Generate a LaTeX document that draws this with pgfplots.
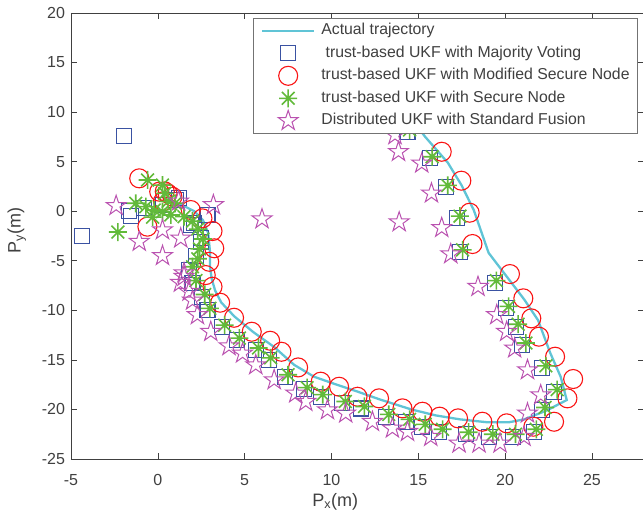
\documentclass[border=0pt]{standalone}
\usepackage{fontspec}
\setmainfont{Liberation Sans}
\usepackage{pgfplots}
\pgfplotsset{compat=1.18}

\definecolor{traj}{RGB}{96,196,214}
\definecolor{mvblue}{RGB}{58,82,162}
\definecolor{msred}{RGB}{250,20,20}
\definecolor{sngreen}{RGB}{98,186,58}
\definecolor{sfmag}{RGB}{186,82,176}
\definecolor{axgray}{RGB}{64,64,64}

% matlab-like '*' (8 spokes)
\pgfdeclareplotmark{ast8}{%
  \pgfpathmoveto{\pgfqpoint{-\pgfplotmarksize}{0pt}}\pgfpathlineto{\pgfqpoint{\pgfplotmarksize}{0pt}}%
  \pgfpathmoveto{\pgfqpoint{0pt}{-\pgfplotmarksize}}\pgfpathlineto{\pgfqpoint{0pt}{\pgfplotmarksize}}%
  \pgfpathmoveto{\pgfqpoint{-0.707\pgfplotmarksize}{-0.707\pgfplotmarksize}}\pgfpathlineto{\pgfqpoint{0.707\pgfplotmarksize}{0.707\pgfplotmarksize}}%
  \pgfpathmoveto{\pgfqpoint{-0.707\pgfplotmarksize}{0.707\pgfplotmarksize}}\pgfpathlineto{\pgfqpoint{0.707\pgfplotmarksize}{-0.707\pgfplotmarksize}}%
  \pgfusepathqstroke}
% outlined pentagram
\pgfdeclareplotmark{pentagram}{%
  \pgfpathmoveto{\pgfpointpolar{90}{\pgfplotmarksize}}%
  \pgfpathlineto{\pgfpointpolar{126}{0.382\pgfplotmarksize}}%
  \pgfpathlineto{\pgfpointpolar{162}{\pgfplotmarksize}}%
  \pgfpathlineto{\pgfpointpolar{198}{0.382\pgfplotmarksize}}%
  \pgfpathlineto{\pgfpointpolar{234}{\pgfplotmarksize}}%
  \pgfpathlineto{\pgfpointpolar{270}{0.382\pgfplotmarksize}}%
  \pgfpathlineto{\pgfpointpolar{306}{\pgfplotmarksize}}%
  \pgfpathlineto{\pgfpointpolar{342}{0.382\pgfplotmarksize}}%
  \pgfpathlineto{\pgfpointpolar{18}{\pgfplotmarksize}}%
  \pgfpathlineto{\pgfpointpolar{54}{0.382\pgfplotmarksize}}%
  \pgfpathclose\pgfusepathqstroke}

\begin{document}
\begin{tikzpicture}
\begin{axis}[
    name=ax,
    scale only axis, width=573bp, height=446bp,
    xmin=-5, xmax=28, ymin=-25, ymax=20,
    xtick={-5,0,...,25}, ytick={-25,-20,...,20},
    tick align=inside, major tick length=6bp,
    axis line style={axgray, line width=0.6bp},
    every tick/.style={axgray, line width=0.6bp},
    /pgf/number format/assume math mode=true,
    ticklabel style={font=\fontsize{16bp}{18bp}\selectfont, text=axgray},
    xticklabel style={yshift=-12bp},
    yticklabel style={xshift=-2.5bp},
    xlabel={P\textsubscript{x}(m)},
    ylabel={P\textsubscript{y}(m)},
    label style={font=\fontsize{18bp}{20bp}\selectfont, text=axgray},
    xlabel style={at={(axis description cs:0.461,-0.106)}, anchor=base},
    ylabel style={at={(axis description cs:-0.0878,0.513)}, anchor=base, rotate=0},
    legend cell align=left,
    legend style={
        at={(rel axis cs:0.9895,0.989)}, anchor=north east,
        draw=black!55, line width=0.8bp, fill=white,
        font=\fontsize{15.8bp}{18bp}\selectfont, text=axgray,
        inner xsep=8bp, inner ysep=1.5bp,
        row sep=0.5bp, column sep=6bp,
        nodes={inner sep=0pt, text height=11.5bp, text depth=3.5bp},
    },
    legend image code/.code={%
        \path[draw=none, fill=none] (0bp,-11bp) rectangle (52bp,11bp);
        \draw[mark repeat=2, mark phase=2, #1]
        plot coordinates {(0bp,0bp) (26bp,0bp) (52bp,0bp)};},
]
% actual trajectory
\addplot[traj, line width=2.3bp] coordinates {
(0.4,1.2)(1.3,0.7)(2.1,0.0)(2.6,-0.9)(2.9,-2.2)(3.0,-4.0)(3.0,-5.5)(3.1,-6.8)
(3.3,-8.0)(3.65,-9.2)(4.4,-10.6)(5.5,-12.2)(6.7,-13.7)(7.85,-15.5)(9.0,-16.7)
(10.3,-17.5)(11.5,-18.2)(12.8,-19.0)(14.6,-20.0)(16.0,-20.6)(17.4,-21.0)
(19.0,-21.3)(20.2,-21.3)(21.1,-21.0)(22.4,-20.1)(23.55,-19.05)(23.2,-16.7)
(22.6,-14.3)(21.9,-11.0)(21.1,-8.9)(19.05,-4.2)(18.2,0.1)(17.5,2.6)(16.7,4.9)
(15.4,7.5)(14.4,9.8)};
\addlegendentry{Actual trajectory}

% majority voting
\addplot[only marks, mvblue, mark=square, mark size=7.5bp, line width=1.1bp] coordinates {
(-1.94,7.59)(-4.39,-2.5)
(-1.65,0.0)(-1.55,-0.5)(-0.79,0.29)(0.3,0.6)(1.04,1.13)(1.23,1.3)(2.09,-1.22)
(2.86,-0.38)(2.48,-2.73)(1.9,-1.39)(2.48,-3.07)(2.2,-4.5)
(1.80,-5.93)(2.0,-7.28)(2.57,-8.63)(2.86,-9.97)(3.72,-11.65)(4.58,-13.0)
(5.64,-14.0)(6.41,-15.0)(7.31,-16.7)(8.42,-17.97)(9.38,-18.72)(10.63,-19.39)
(11.7,-19.9)(13.13,-20.73)(14.28,-21.24)(15.24,-21.74)(16.20,-22.25)
(17.74,-22.49)(19.08,-22.75)(20.48,-22.75)(21.66,-22.25)(22.15,-20.06)
(22.82,-18.21)(22.15,-15.85)(20.99,-13.5)(20.61,-11.65)(20.03,-9.80)
(19.4,-7.2)(17.40,-4.09)(17.25,-0.72)(16.58,2.47)(15.68,5.34)(14.38,8.02)};
\addlegendentry{\hspace{4.3bp}trust-based UKF with Majority Voting}

% modified secure node
\addplot[only marks, msred, mark=o, mark size=9.5bp, line width=1.1bp] coordinates {
(-1.07,3.32)(0.08,1.97)(0.4,2.0)(0.56,1.8)(0.84,1.46)(0.3,1.0)(1.9,0.12)
(2.57,-0.72)(-0.6,-1.56)(3.15,-2.0)(3.25,-3.74)(2.96,-5.1)
(2.76,-6.44)(3.15,-7.62)(3.59,-9.23)(4.39,-10.75)(5.41,-12.16)(6.47,-13.07)
(7.12,-14.18)(8.08,-15.76)(9.38,-17.20)(10.44,-17.71)(11.5,-18.72)
(12.74,-18.88)(14.09,-19.89)(15.24,-20.23)(16.23,-20.73)(17.29,-20.90)
(18.69,-21.24)(20.09,-21.40)(21.63,-21.74)(22.82,-21.24)(23.59,-18.88)
(23.92,-16.93)(22.88,-14.68)(21.95,-12.66)(21.51,-10.81)(21.05,-8.79)
(20.28,-6.34)(18.12,-3.31)(17.96,-0.15)(17.48,3.08)(16.35,6.0)};
\addlegendentry{trust-based UKF with Modified Secure Node}

% secure node
\addplot[only marks, sngreen, mark=ast8, mark size=9bp, line width=1.6bp] coordinates {
(-2.30,-2.1)
(-0.59,3.15)(0.27,2.64)(0.4,1.8)(-1.27,0.8)(-0.69,0.46)(-0.21,0.12)(0.27,-0.05)
(0.75,-0.38)(1.51,-0.55)(0.6,1.0)(1.0,0.8)(-0.3,-0.6)(2.0,-1.0)(2.3,-1.8)
(2.6,-2.8)(2.4,-3.8)(2.3,-4.8)
(2.0,-5.6)(2.2,-7.0)(2.7,-8.4)(3.0,-9.8)(3.85,-11.5)(4.7,-12.8)(5.8,-13.8)
(6.5,-14.8)(7.5,-16.5)(8.6,-17.8)(9.5,-18.5)(10.8,-19.2)(11.9,-19.7)
(13.3,-20.5)(14.5,-21.0)(15.4,-21.5)(16.4,-22.0)(17.9,-22.3)(19.3,-22.5)
(20.6,-22.5)(21.8,-22.0)(22.3,-19.8)(23.0,-18.0)(22.35,-15.6)(21.2,-13.3)
(20.75,-11.4)(20.2,-9.6)(19.5,-7.0)(17.55,-3.9)(17.4,-0.5)(16.7,2.6)
(15.8,5.5)(14.5,8.2)};
\addlegendentry{trust-based UKF with Secure Node}

% standard fusion
\addplot[only marks, sfmag, mark=pentagram, mark size=10.5bp, line width=1.0bp] coordinates {
(6.0,-0.8)(13.9,-1.1)
(-2.4,0.55)(3.2,0.63)(0.27,-1.9)(-1.07,-3.07)(1.32,-2.73)(0.27,-4.5)(1.2,1.0)
(1.51,-6.24)(1.3,-7.2)(2.0,-9.0)
(1.51,-6.6)(1.80,-8.1)(2.28,-10.47)(3.05,-12.16)(4.10,-13.6)(4.88,-14.34)
(5.64,-15.52)(6.70,-17.03)(7.94,-18.37)(8.52,-19.22)(9.77,-20.06)
(10.82,-20.39)(12.36,-21.24)(13.51,-21.91)(14.38,-22.25)(15.72,-22.75)
(17.35,-23.42)(18.50,-23.42)(19.71,-23.42)(21.09,-22.75)(21.29,-20.39)
(22.05,-18.55)(21.29,-16.02)(20.55,-13.83)(20.09,-12.16)(19.52,-10.47)
(18.44,-7.62)(16.87,-4.32)(16.35,-1.67)(15.76,1.81)(15.2,4.83)(13.86,6.0)
(13.66,7.69)};
\addlegendentry{Distributed UKF with Standard Fusion}
\end{axis}
\pgfresetboundingbox
\path[use as bounding box] ([xshift=-71bp,yshift=-61bp]ax.south west)
    rectangle ([xshift=-1bp,yshift=13bp]ax.north east);
\end{tikzpicture}
\end{document}
